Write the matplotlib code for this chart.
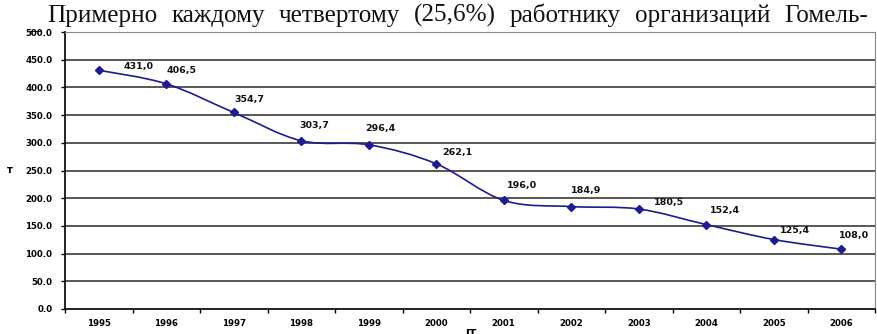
import matplotlib
matplotlib.use("Agg")
import matplotlib.pyplot as plt
from matplotlib.path import Path
from matplotlib.patches import PathPatch
import numpy as np

# Data: numbers by year
years = ["1995", "1996", "1997", "1998", "1999", "2000",
         "2001", "2002", "2003", "2004", "2005", "2006"]
values = [431.0, 406.5, 354.7, 303.7, 296.4, 262.1,
          196.0, 184.9, 180.5, 152.4, 125.4, 108.0]
value_labels = ["431,0", "406,5", "354,7", "303,7", "296,4", "262,1",
                "196,0", "184,9", "180,5", "152,4", "125,4", "108,0"]
y_ticks = [0, 50, 100, 150, 200, 250, 300, 350, 400, 450, 500]
y_tick_labels = ["0.0", "50.0", "100.0", "150.0", "200.0", "250.0",
                 "300.0", "350.0", "400.0", "450.0", "500.0"]

# label offsets in pixels (dx, dy) relative to each point
label_offsets = [(40, 4), (15, 13), (16, 13), (13, 15), (12, 16), (21, 11),
                 (18, 15), (15, 16), (30, 7), (19, 14), (21, 9), (13, 14)]

DPI = 100
W, H = 877, 334
fig = plt.figure(figsize=(W / DPI, H / DPI), dpi=DPI)
fig.patch.set_facecolor("white")

left, right, bottom, top = 65, 875, 309, 32
ax = fig.add_axes([left / W, 1 - bottom / H, (right - left) / W, (bottom - top) / H])

x = np.arange(len(values))
ax.set_xlim(-0.5, len(values) - 0.5)
ax.set_ylim(0, 500)

# horizontal grid
for t in y_ticks[1:]:
    ax.axhline(t, color="#2a2a2a", lw=1.1, zorder=1)

line_color = "#1c1c96"

# smoothed curve through the points (cubic Bezier segments)
pts = np.column_stack([x, values]).astype(float)
verts = [tuple(pts[0])]
codes = [Path.MOVETO]
n = len(pts)
for i in range(n - 1):
    p0 = pts[i - 1] if i > 0 else pts[i]
    p1 = pts[i]
    p2 = pts[i + 1]
    p3 = pts[i + 2] if i + 2 < n else pts[i + 1]
    c1 = p1 + (p2 - p0) / 6.0
    c2 = p2 - (p3 - p1) / 6.0
    verts += [tuple(c1), tuple(c2), tuple(p2)]
    codes += [Path.CURVE4, Path.CURVE4, Path.CURVE4]
ax.add_patch(PathPatch(Path(verts, codes), facecolor="none",
                       edgecolor=line_color, lw=1.2, zorder=3))
ax.plot(x, values, linestyle="none", marker="D", markersize=4,
        color=line_color, zorder=4)

px2pt = 72.0 / DPI
for xi, v, lab, (dx, dy) in zip(x, values, value_labels, label_offsets):
    ax.annotate(lab, (xi, v), xytext=(dx * px2pt, dy * px2pt),
                textcoords="offset points", ha="center", va="center",
                fontsize=6.8, fontweight="bold", color="#111111", zorder=5)

# axes styling
for s in ["top", "right"]:
    ax.spines[s].set_color("#888888")
    ax.spines[s].set_linewidth(0.8)
for s in ["left", "bottom"]:
    ax.spines[s].set_color("#111111")
    ax.spines[s].set_linewidth(1.3)

ax.set_yticks(y_ticks)
ax.set_yticklabels(y_tick_labels, fontsize=6.2, fontweight="bold")
ax.tick_params(axis="y", length=3, width=1, pad=6, direction="out")

ax.set_xticks(x)
ax.set_xticklabels(years, fontsize=6.2, fontweight="bold")
ax.set_xticks(np.arange(len(values) + 1) - 0.5, minor=True)
ax.tick_params(axis="x", which="major", length=0, pad=7)
ax.tick_params(axis="x", which="minor", length=3, width=1, direction="out")

# axis titles
fig.text(9.5 / W, 1 - 170 / H, "т", fontsize=7, fontweight="bold",
         ha="center", va="center")
fig.text(471 / W, 1 - 327 / H, "гг", fontsize=8, fontweight="bold",
         ha="center", va="top")

# justified text line of the page above the chart
line_words = "Примерно каждому четвертому (25,6%) работнику организаций Гомель-".split()
text_left, text_right, baseline = 47, 868, 22
renderer = fig.canvas.get_renderer()
probe = fig.text(0, 0, line_words[0], fontsize=20, family="Liberation Serif")
fs = 20 * 110.0 / probe.get_window_extent(renderer).width
probe.remove()

word_artists = []
widths = []
for w in line_words:
    t = fig.text(0, 1 - baseline / H, w, fontsize=fs, family="Liberation Serif",
                 ha="left", va="baseline", color="#111111")
    word_artists.append(t)
    widths.append(t.get_window_extent(renderer).width)
gap = (text_right - text_left - sum(widths)) / (len(line_words) - 1)
xpos = text_left
for t, wdt in zip(word_artists, widths):
    t.set_x(xpos / W)
    xpos += wdt + gap
fig.text(28 / W, 1 - 28 / H, "_", fontsize=fs,
         family="Liberation Serif", ha="left", va="baseline", color="#111111")

fig.savefig("out.png", dpi=DPI, facecolor="white")
